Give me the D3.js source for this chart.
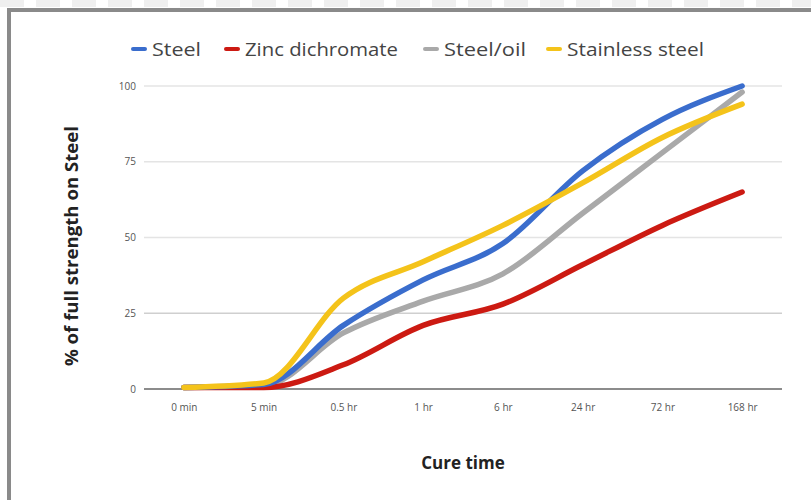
<!DOCTYPE html>
<html><head><meta charset="utf-8">
<script src="https://cdn.jsdelivr.net/npm/d3@7/dist/d3.min.js"></script>
<style>body{margin:0;background:#fff;}svg{display:block;font-family:"Open Sans",sans-serif;}</style>
</head><body><svg id="c" width="811" height="500"></svg>
<script>
const categories = ["0 min","5 min","0.5 hr","1 hr","6 hr","24 hr","72 hr","168 hr"];
const seriesNames = ["Steel","Zinc dichromate","Steel/oil","Stainless steel"];
const steel     = [0.5, 1.5, 21, 36, 48, 72, 89, 100];
const zinc      = [0.5, 0.5, 8, 21, 28, 41, 54, 65];
const steelOil  = [0.5, 1, 18.5, 29, 38, 58, 78, 98];
const stainless = [0.5, 2, 30, 42, 54, 68, 83, 94];
const yTicks = [0, 25, 50, 75, 100];
const colors = ["#3a6dcd","#cc1a12","#a9a9a9","#f4c31a"];

const series = [steel, zinc, steelOil, stainless];
const svg = d3.select("#c");

// frame
const dash = svg.append("g");
d3.range(0, 811, 36).forEach(px=>{
  dash.append("rect").attr("x",px).attr("y",0).attr("width",24).attr("height",7).attr("fill","#efefef");
});
svg.append("line").attr("x1",7).attr("x2",811).attr("y1",10).attr("y2",10).attr("stroke","#8a8a8a").attr("stroke-width",4);
svg.append("line").attr("x1",9).attr("x2",9).attr("y1",8).attr("y2",500).attr("stroke","#8a8a8a").attr("stroke-width",4);

const x = d3.scalePoint().domain(categories).range([144,782]).padding(0.5);
const y = d3.scaleLinear().domain([0,100]).range([389,86]);

// grid
const g = svg.append("g");
g.selectAll("line.grid").data(yTicks.filter(t=>t>0)).join("line")
  .attr("x1",144).attr("x2",782).attr("y1",d=>y(d)).attr("y2",d=>y(d))
  .attr("stroke",d=>d===25?"#cfcfcf":"#e4e4e4").attr("stroke-width",1.5);
g.append("line").attr("x1",144).attr("x2",782).attr("y1",y(0)).attr("y2",y(0)).attr("stroke","#666").attr("stroke-width",1.5);

// y tick labels
const yAxis = d3.axisLeft(y).tickValues(yTicks).tickSize(0).tickPadding(0);
const ya = svg.append("g").attr("transform","translate(136,0)").call(yAxis);
ya.select(".domain").remove();
ya.selectAll("text").attr("font-size",10).attr("fill","#555").attr("font-family","'Open Sans',sans-serif");

// x tick labels
const xAxis = d3.axisBottom(x).tickSize(0).tickPadding(0);
const xa = svg.append("g").attr("transform","translate(0,404)").call(xAxis);
xa.select(".domain").remove();
xa.selectAll("text").attr("font-size",10).attr("fill","#555").attr("font-family","'Open Sans',sans-serif");

// lines
const line = d3.line().x((d,i)=>x(categories[i])).y(d=>y(d)).curve(d3.curveMonotoneX);
const order = [2,1,0,3];
order.forEach(k=>{
  svg.append("path").datum(series[k]).attr("d",line).attr("fill","none")
    .attr("stroke",colors[k]).attr("stroke-width",5.5).attr("stroke-linecap","round").attr("stroke-linejoin","round");
});

// legend
const legX = [133, 226, 425, 548];
const legW = [49, 153, 82, 137];
seriesNames.forEach((n,i)=>{
  svg.append("line").attr("x1",legX[i]).attr("x2",legX[i]+12).attr("y1",49).attr("y2",49)
    .attr("stroke",colors[i]).attr("stroke-width",4).attr("stroke-linecap","round");
  svg.append("text").attr("x",legX[i]+19).attr("y",56).text(n)
    .attr("font-size",19).attr("fill","#444")
    .attr("textLength",legW[i]).attr("lengthAdjust","spacingAndGlyphs");
});

// axis titles
svg.append("text").attr("x",463).attr("y",469).attr("text-anchor","middle").text("Cure time")
  .attr("font-size",17).attr("font-weight","bold").attr("fill","#222");
svg.append("text").attr("transform","translate(78,246) rotate(-90)").attr("text-anchor","middle")
  .text("% of full strength on Steel").attr("font-size",17).attr("font-weight","bold").attr("fill","#222")
  .attr("textLength",240).attr("lengthAdjust","spacingAndGlyphs");
</script></body></html>
